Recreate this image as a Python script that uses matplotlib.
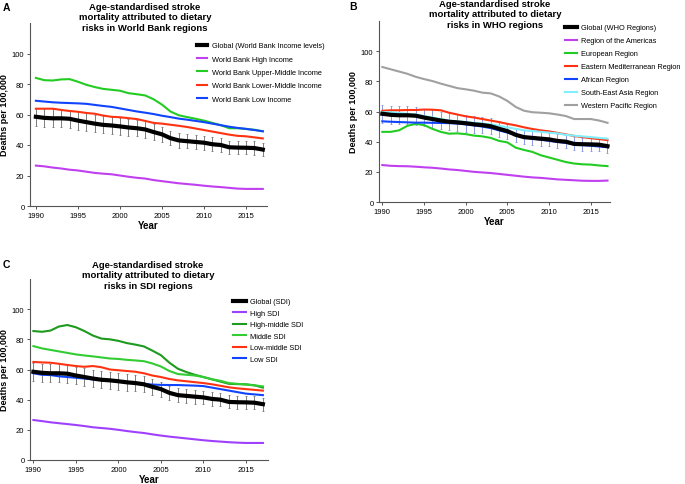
import matplotlib
matplotlib.use('Agg')
import matplotlib.pyplot as plt

plt.rcParams['font.family'] = ['Liberation Sans', 'DejaVu Sans']

years = list(range(1990, 2018))

# global estimate (same in all panels) and its error bar half-widths
glob = [58.5, 57.8, 57.5, 57.5, 57.2, 56.0, 55.0, 54.0, 53.2, 52.8, 52.2, 51.5, 51.0, 50.2,
        48.5, 47.0, 44.5, 43.0, 42.5, 42.0, 41.5, 40.5, 40.0, 38.5, 38.3, 38.2, 38.0, 37.0]
glob_err = [6.0, 6.0, 6.0, 6.0, 6.0, 5.9, 5.8, 5.7, 5.6, 5.6, 5.5, 5.5, 5.4, 5.3,
            5.2, 5.0, 4.8, 4.7, 4.6, 4.6, 4.5, 4.5, 4.4, 4.3, 4.3, 4.3, 4.3, 4.3]

# ---- A: World Bank income levels
wb_high = [26.5, 26.0, 25.2, 24.6, 23.8, 23.3, 22.5, 21.7, 21.2, 20.8, 20.0, 19.2, 18.5, 18.0,
           17.0, 16.3, 15.6, 14.9, 14.4, 13.9, 13.3, 12.8, 12.4, 11.9, 11.4, 11.2, 11.2, 11.2]
wb_uppermid = [84.0, 82.5, 82.3, 83.0, 83.2, 81.5, 79.5, 78.0, 76.8, 76.2, 75.6, 74.0, 73.3, 72.5,
               70.0, 66.5, 62.0, 59.5, 58.3, 57.2, 56.0, 54.5, 53.0, 51.0, 51.0, 50.5, 50.0, 49.0]
wb_lowermid = [63.8, 63.8, 63.8, 63.0, 62.3, 61.8, 61.0, 60.5, 59.3, 58.5, 58.2, 57.6, 57.0, 55.8,
               54.5, 54.0, 53.3, 52.6, 51.8, 50.8, 49.8, 48.8, 47.8, 46.8, 46.0, 45.7, 45.0, 44.3]
wb_low = [69.0, 68.5, 68.0, 67.7, 67.5, 67.3, 67.0, 66.3, 65.6, 65.0, 64.0, 63.0, 62.0, 61.2,
          60.3, 59.2, 58.3, 57.3, 56.6, 55.8, 55.0, 54.0, 53.0, 52.0, 51.2, 50.6, 49.8, 49.0]

# ---- B: WHO regions
who_amr = [24.5, 24.0, 23.8, 23.7, 23.4, 23.0, 22.7, 22.2, 21.6, 21.2, 20.6, 20.0, 19.6, 19.2,
           18.6, 18.0, 17.4, 16.8, 16.3, 16.0, 15.5, 15.0, 14.7, 14.4, 14.1, 14.0, 14.0, 14.2]
who_eur = [46.5, 46.5, 47.5, 50.5, 51.8, 51.0, 48.5, 46.5, 45.3, 45.5, 45.0, 44.0, 43.5, 42.5,
           40.5, 39.5, 36.0, 34.5, 33.2, 31.0, 29.5, 28.0, 26.5, 25.5, 25.0, 24.8, 24.2, 23.8]
who_emr = [60.5, 60.8, 60.8, 61.0, 61.0, 61.3, 61.2, 60.8, 59.2, 58.0, 56.8, 56.0, 55.0, 54.0,
           53.0, 51.8, 50.8, 49.5, 48.4, 47.5, 46.8, 45.8, 44.8, 43.8, 43.0, 42.3, 41.7, 41.0]
who_afr = [53.5, 53.2, 53.0, 52.8, 52.6, 52.6, 52.5, 52.4, 52.3, 52.0, 51.5, 50.8, 50.0, 49.0,
           47.5, 46.0, 44.5, 43.0, 42.0, 41.3, 40.5, 39.8, 39.2, 38.3, 37.8, 37.3, 36.8, 36.3]
who_sear = [59.5, 59.5, 59.0, 58.5, 58.0, 57.0, 56.0, 55.0, 54.0, 53.5, 53.0, 52.5, 52.0, 51.5,
            50.5, 49.5, 48.5, 47.5, 47.0, 46.5, 46.0, 45.5, 44.5, 44.0, 43.5, 43.0, 42.5, 42.0]
who_wpr = [89.5, 88.0, 86.5, 85.0, 83.0, 81.5, 80.2, 78.5, 77.0, 75.5, 74.7, 73.8, 72.5, 72.0,
           70.0, 67.0, 63.0, 60.5, 59.5, 59.2, 58.8, 58.0, 57.0, 55.0, 55.0, 55.0, 54.0, 52.5]

# ---- C: SDI quintiles
sdi_high = [26.5, 25.8, 25.0, 24.4, 23.8, 23.2, 22.5, 21.7, 21.2, 20.7, 20.0, 19.2, 18.5, 17.9,
            17.0, 16.2, 15.5, 14.9, 14.3, 13.7, 13.1, 12.6, 12.2, 11.8, 11.5, 11.3, 11.3, 11.3]
sdi_highmid = [85.5, 85.0, 85.8, 88.5, 89.5, 88.0, 85.5, 82.5, 80.5, 80.0, 79.0, 77.5, 76.5, 75.3,
               72.5, 69.5, 64.5, 60.5, 58.3, 56.5, 55.0, 53.5, 52.0, 50.5, 50.3, 50.2, 49.5, 48.0]
sdi_mid = [75.5, 74.0, 73.0, 72.0, 71.0, 70.0, 69.3, 68.7, 68.0, 67.3, 67.0, 66.4, 66.0, 65.5,
           64.0, 62.0, 59.0, 57.0, 56.5, 56.0, 55.0, 53.5, 52.5, 51.0, 50.5, 50.0, 49.5, 48.8]
sdi_lowmid = [65.0, 64.7, 64.5, 63.8, 63.0, 62.3, 61.8, 62.3, 61.5, 60.0, 59.5, 59.0, 58.5, 57.5,
              56.0, 55.0, 53.7, 52.8, 52.2, 51.6, 51.0, 50.2, 49.2, 48.2, 47.5, 47.0, 46.5, 46.0]
sdi_low = [57.5, 56.5, 56.3, 55.5, 55.0, 54.5, 54.0, 53.5, 53.0, 52.5, 52.0, 51.5, 51.0, 50.5,
           50.0, 49.8, 49.7, 49.7, 49.5, 49.3, 49.0, 48.0, 47.0, 46.0, 45.0, 44.0, 43.5, 43.0]

W, H = 685.0, 485.0
fig = plt.figure(figsize=(6.85, 4.85), dpi=100)


def px_axes(left, top, right, bottom):
    # pixel box -> figure fraction
    return fig.add_axes([left / W, 1 - bottom / H, (right - left) / W, (bottom - top) / H])


def style(ax, x0, x1):
    ax.set_xlim(x0, x1)
    ax.set_ylim(0, 120)
    ax.set_xticks([1990, 1995, 2000, 2005, 2010, 2015])
    ax.set_yticks([0, 20, 40, 60, 80, 100])
    for s in ['top', 'right']:
        ax.spines[s].set_visible(False)
    for s in ['left', 'bottom']:
        ax.spines[s].set_color('#555555')
        ax.spines[s].set_linewidth(0.8)
    ax.tick_params(labelsize=5.5, length=2.5, width=0.7, color='#555555', pad=1.5)
    ax.set_xlabel('Year', fontsize=7, fontweight='bold', labelpad=1)
    ax.set_ylabel('Deaths per 100,000', fontsize=6.5, fontweight='bold', labelpad=2)


def draw_global(ax, label, ecolor):
    ax.errorbar(years, glob, yerr=glob_err, fmt='none', ecolor=ecolor, elinewidth=0.6,
                capsize=1.0, capthick=0.5, zorder=2)
    return ax.plot(years, glob, color='black', lw=3.0, label=label, zorder=5)


# ---------------- panel A
axA = px_axes(30, 24, 267, 207)
style(axA, 1989.3, 2017.5)
draw_global(axA, 'Global (World Bank Income levels)', '#666666')
axA.plot(years, wb_high, color='#C040F0', lw=1.5, label='World Bank High Income')
axA.plot(years, wb_uppermid, color='#22CC22', lw=1.5, label='World Bank Upper-Middle Income')
axA.plot(years, wb_lowermid, color='#FF3311', lw=1.5, label='World Bank Lower-Middle Income')
axA.plot(years, wb_low, color='#1144FF', lw=1.5, label='World Bank Low Income')
axA.legend(loc='upper left', bbox_to_anchor=(197 / W, 1 - 43 / H), bbox_transform=fig.transFigure,
           frameon=False, fontsize=5.3, handlelength=1.4, handletextpad=0.6, labelspacing=0.85,
           borderpad=0, borderaxespad=0)

# ---------------- panel B
axB = px_axes(379, 22, 610, 203)
style(axB, 1989.6, 2017.3)
draw_global(axB, 'Global (WHO Regions)', '#7788DD')
axB.plot(years, who_amr, color='#C040F0', lw=1.5, label='Region of the Americas')
axB.plot(years, who_eur, color='#22CC22', lw=1.5, label='European Region')
axB.plot(years, who_emr, color='#FF3311', lw=1.5, label='Eastern Mediterranean Region')
axB.plot(years, who_afr, color='#1144FF', lw=1.5, label='African Region')
axB.plot(years, who_sear, color='#80F0FF', lw=1.5, label='South-East Asia Region')
axB.plot(years, who_wpr, color='#A0A0A0', lw=1.5, label='Western Pacific Region')
axB.legend(loc='upper left', bbox_to_anchor=(565 / W, 1 - 25 / H), bbox_transform=fig.transFigure,
           frameon=False, fontsize=5.3, handlelength=1.6, handletextpad=0.6, labelspacing=0.8,
           borderpad=0, borderaxespad=0)

# ---------------- panel C
axC = px_axes(30, 280, 268, 461)
style(axC, 1989.6, 2017.6)
draw_global(axC, 'Global (SDI)', '#666666')
axC.plot(years, sdi_high, color='#A040FF', lw=1.5, label='High SDI')
axC.plot(years, sdi_highmid, color='#1E9A1E', lw=1.5, label='High-middle SDI')
axC.plot(years, sdi_mid, color='#33CC33', lw=1.5, label='Middle SDI')
axC.plot(years, sdi_lowmid, color='#FF3311', lw=1.5, label='Low-middle SDI')
axC.plot(years, sdi_low, color='#1144FF', lw=1.5, label='Low SDI')
axC.legend(loc='upper left', bbox_to_anchor=(233 / W, 1 - 299 / H), bbox_transform=fig.transFigure,
           frameon=False, fontsize=5.3, handlelength=1.7, handletextpad=0.6, labelspacing=0.6,
           borderpad=0, borderaxespad=0)

# titles and panel letters
tkw = dict(ha='center', va='top', fontsize=6.8, fontweight='bold', linespacing=1.2)
fig.text(145 / W, 1 - 3 / H, 'Age-standardised stroke\nmortality attributed to dietary\nrisks in World Bank regions', **tkw)
fig.text(495 / W, 1 - 0 / H, 'Age-standardised stroke\nmortality attributed to dietary\nrisks in WHO regions', **tkw)
fig.text(148 / W, 1 - 261 / H, 'Age-standardised stroke\nmortality attributed to dietary\nrisks in SDI regions', **tkw)

lkw = dict(ha='left', va='center', fontsize=7.5, fontweight='bold')
fig.text(3 / W, 1 - 8 / H, 'A', **lkw)
fig.text(349 / W, 1 - 7 / H, 'B', **lkw)
fig.text(3 / W, 1 - 265 / H, 'C', **lkw)

fig.savefig('out.png', dpi=100)
